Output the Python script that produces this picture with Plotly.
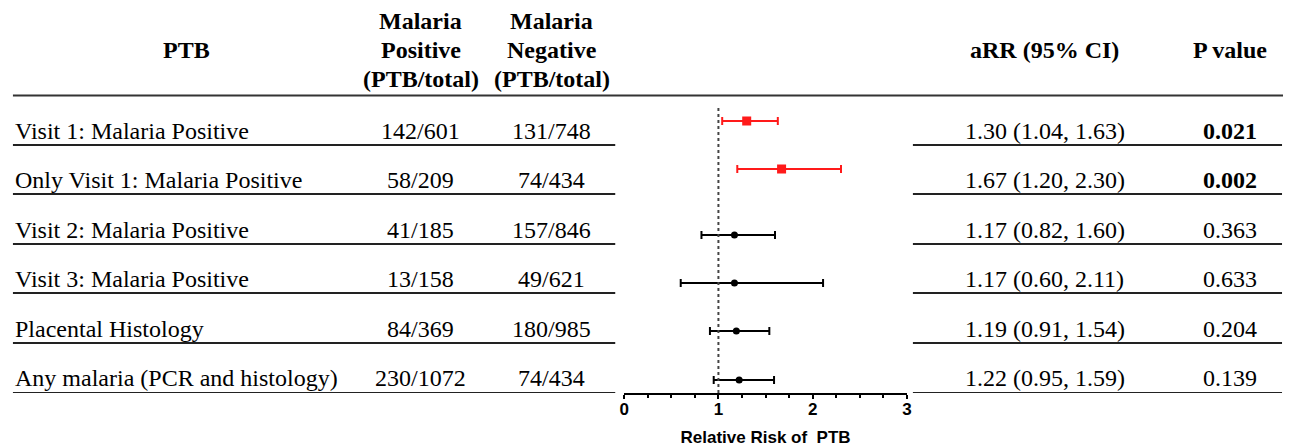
import plotly.graph_objects as go

# ---------------- data ----------------
labels = [
    "Visit 1: Malaria Positive",
    "Only Visit 1: Malaria Positive",
    "Visit 2: Malaria Positive",
    "Visit 3: Malaria Positive",
    "Placental Histology",
    "Any malaria (PCR and histology)",
]
pos_counts = ["142/601", "58/209", "41/185", "13/158", "84/369", "230/1072"]
neg_counts = ["131/748", "74/434", "157/846", "49/621", "180/985", "74/434"]
arr = [1.30, 1.67, 1.17, 1.17, 1.19, 1.22]
ci_lo = [1.04, 1.20, 0.82, 0.60, 0.91, 0.95]
ci_hi = [1.63, 2.30, 1.60, 2.11, 1.54, 1.59]
p_values = ["0.021", "0.002", "0.363", "0.633", "0.204", "0.139"]
x_ticks = [0, 1, 2, 3]

# ---------------- layout constants (pixel positions) ----------------
W, H = 1290, 448
AX_BOTTOM = 393
row_lines = [145, 194, 244, 293, 343, 393]
text_y = [131, 180, 230, 279, 329, 378]
forest_y = [121, 169, 235, 283, 331, 380]
X_LEFT, X_POS, X_NEG, X_ARR, X_P = 8, 419, 551, 1048, 1235

SERIF = "Liberation Serif, Times New Roman, serif"
SANS = "Liberation Sans, Arial, sans-serif"


def px(x):
    return x / W


sig = [float(p) < 0.05 for p in p_values]

fig = go.Figure()
for i in range(len(arr)):
    col = "#ff1a1a" if sig[i] else "#000000"
    fig.add_trace(go.Scatter(
        x=[arr[i]], y=[forest_y[i]], mode="markers",
        marker=dict(symbol="square" if sig[i] else "circle",
                    size=9 if sig[i] else 7, color=col),
        error_x=dict(type="data", symmetric=False,
                     array=[ci_hi[i] - arr[i]], arrayminus=[arr[i] - ci_lo[i]],
                     color=col, thickness=2, width=4),
        showlegend=False, hoverinfo="skip",
    ))

shapes = []
# header rule
shapes.append(dict(type="line", xref="paper", yref="y", x0=px(8), x1=px(1288),
                   y0=95.5, y1=95.5, line=dict(color="#333333", width=2)))
for y in row_lines:
    shapes.append(dict(type="line", xref="paper", yref="y", x0=px(8), x1=px(615),
                       y0=y, y1=y, line=dict(color="#222222", width=2)))
    shapes.append(dict(type="line", xref="paper", yref="y", x0=px(915), x1=px(1287),
                       y0=y, y1=y, line=dict(color="#222222", width=2)))
# reference line at RR = 1
shapes.append(dict(type="line", xref="x", yref="y", x0=1, x1=1, y0=108, y1=AX_BOTTOM,
                   line=dict(color="#444444", width=2, dash="dot")))

ann = []


def txt(x, y, s, bold=False, anchor="center", size=24, family=SERIF):
    ann.append(dict(xref="paper", yref="y", x=px(x), y=y, text=("<b>%s</b>" % s) if bold else s,
                    showarrow=False, xanchor=anchor, yanchor="middle",
                    font=dict(family=family, size=size, color="#000000")))


# headers
txt(183, 50, "PTB", bold=True)
for j, s in enumerate(["Malaria", "Positive", "(PTB/total)"]):
    txt(X_POS, 21 + 29 * j, s, bold=True)
for j, s in enumerate(["Malaria", "Negative", "(PTB/total)"]):
    txt(X_NEG, 21 + 29 * j, s, bold=True)
txt(X_ARR, 50, "aRR (95% CI)", bold=True)
txt(X_P, 50, "P value", bold=True)

for i in range(len(labels)):
    y = text_y[i]
    txt(X_LEFT, y, labels[i], anchor="left")
    txt(X_POS, y, pos_counts[i])
    txt(X_NEG, y, neg_counts[i])
    txt(X_ARR, y, "%.2f (%.2f, %.2f)" % (arr[i], ci_lo[i], ci_hi[i]))
    txt(X_P, y, p_values[i], bold=sig[i])

fig.update_layout(
    width=W, height=H, margin=dict(l=0, r=0, t=0, b=0),
    paper_bgcolor="white", plot_bgcolor="white",
    shapes=shapes, annotations=ann,
    xaxis=dict(domain=[px(624), px(909)], range=[0, 3], tickvals=x_ticks,
               showgrid=False, zeroline=False, showline=True, linecolor="#000000",
               linewidth=2, ticks="outside", ticklen=4, tickwidth=2, tickcolor="#000000",
               ticklabelstandoff=-4,
               minor=dict(dtick=0.25, ticks="outside", ticklen=3, tickwidth=1.5,
                          tickcolor="#000000", showgrid=False),
               tickfont=dict(family=SANS, size=17, color="#000000", weight="bold"),
               title=dict(text="Relative Risk of  PTB", standoff=13,
                          font=dict(family=SANS, size=17, color="#000000", weight="bold"))),
    yaxis=dict(domain=[(H - AX_BOTTOM) / H, 1], range=[AX_BOTTOM, 0], visible=False,
               showgrid=False, zeroline=False),
)

fig.write_html("out.html", config={"displayModeBar": False},
               post_script="document.body.style.margin='0';document.body.style.padding='0';"
                           "document.documentElement.style.overflow='hidden';")
